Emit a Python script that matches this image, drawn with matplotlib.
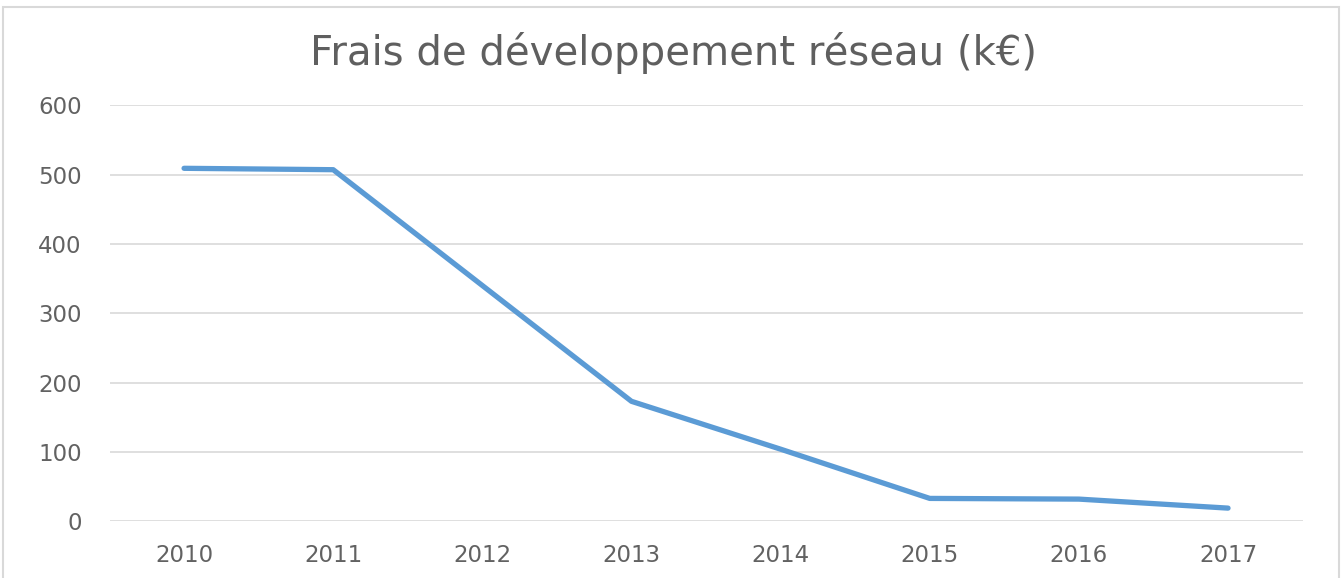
import matplotlib.pyplot as plt
from matplotlib.patches import Rectangle

years = ['2010', '2011', '2012', '2013', '2014', '2015', '2016', '2017']
frais = [509, 507, 340, 173, 104, 33, 32, 19]
y_ticks = [0, 100, 200, 300, 400, 500, 600]

plt.rcParams['font.family'] = ['DejaVu Sans']

fig = plt.figure(figsize=(13.44, 5.78), dpi=100)
ax = fig.add_axes([109.5 / 1344, 56.7 / 578, (1302.6 - 109.5) / 1344, (521.3 - 105.2) / 578])

# outer chart border
fig.patches.append(Rectangle((3 / 1344, -0.1), 1336 / 1344, (578 - 7) / 578 + 0.1,
                             transform=fig.transFigure, fill=False,
                             edgecolor='#D9D9D9', linewidth=1.5))

x = range(len(years))
ax.plot(x, frais, color='#5B9BD5', linewidth=3.8, solid_capstyle='round')

ax.set_xlim(-0.5, len(years) - 0.5)
ax.set_ylim(0, 600)
ax.set_xticks(list(x))
ax.set_xticklabels(years)
ax.set_yticks(y_ticks)
ax.tick_params(length=0, labelsize=16.5, colors='#626262')
ax.tick_params(axis='x', pad=16)
ax.tick_params(axis='y', pad=20)
ax.grid(True, axis='y', color='#D9D9D9', linewidth=1.2)
ax.set_axisbelow(True)
for s in ax.spines.values():
    s.set_visible(False)

fig.text(673 / 1344, 1 - 53 / 578, 'Frais de développement réseau (k€)',
         ha='center', va='center', fontsize=29, color='#5f5f5f')

plt.savefig('out.png', dpi=100)
